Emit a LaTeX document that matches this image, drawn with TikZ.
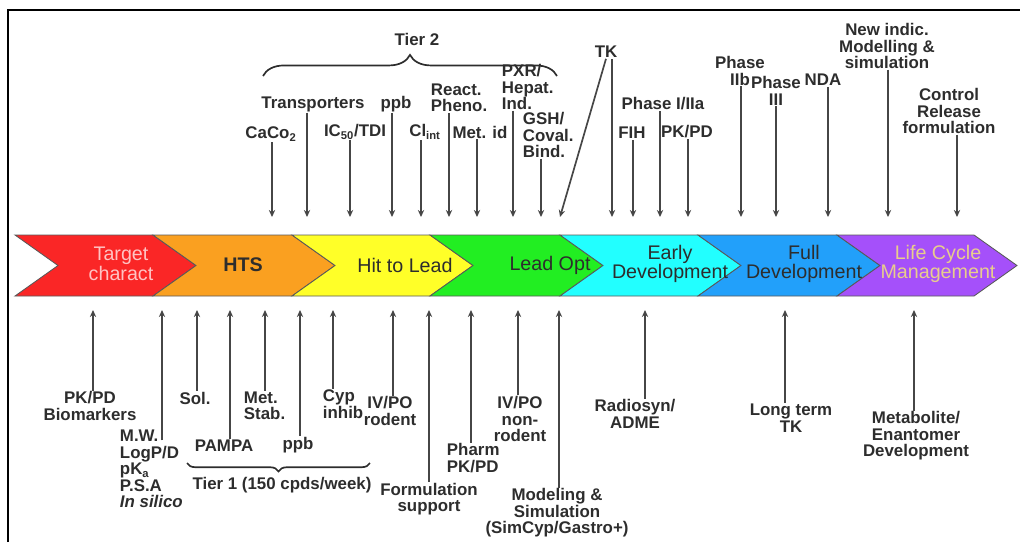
\documentclass[tikz,border=0pt]{standalone}
\usepackage{fontspec}
\newfontfamily\arialfont{Liberation Sans}
\usetikzlibrary{arrows.meta,decorations.pathreplacing}

\definecolor{cRed}{RGB}{250,38,38}
\definecolor{cOrange}{RGB}{250,160,32}
\definecolor{cYellow}{RGB}{255,255,40}
\definecolor{cGreen}{RGB}{34,238,34}
\definecolor{cCyan}{RGB}{34,255,255}
\definecolor{cBlue}{RGB}{34,160,250}
\definecolor{cPurple}{RGB}{165,80,250}
\definecolor{txtgray}{RGB}{45,45,45}
\definecolor{arrgray}{RGB}{70,70,70}
\definecolor{pinktxt}{RGB}{255,195,195}
\definecolor{tantxt}{RGB}{232,205,140}

\newcommand\lblfont{\arialfont\bfseries\fontsize{12}{11.7}\selectfont}
\newcommand\stagefont{\arialfont\fontsize{14}{13}\selectfont}

\tikzset{
    lbl/.style={font=\lblfont, text=txtgray, inner sep=0.5pt, align=center},
    lbll/.style={lbl, align=left, anchor=west},
    stage/.style={font=\stagefont, text=txtgray, inner sep=0pt, align=center},
    arr/.style={draw=arrgray, line width=1.2pt, -{Stealth[length=5pt,width=4.5pt]}},
    brc/.style={draw=txtgray, line width=1.2pt, decorate},
}

\begin{document}
\begin{tikzpicture}[x=0.025cm, y=-0.025cm]
    \useasboundingbox (0,0) rectangle (1020,542);
    % frame
    \draw[line width=1.5pt] (8,542) -- (8,10) -- (1020,10);

    % stages
    \foreach \l/\r/\c in {15/153/cRed, 153/292/cOrange, 292/430/cYellow,
        430/560/cGreen, 560/698/cCyan, 698/837/cBlue, 837/974/cPurple}
        \filldraw[draw=gray!70!black, line width=0.6pt, fill=\c]
            (\l,235) -- (\r,235) -- ++(43,30.5) -- (\r,296) -- (\l,296) -- ++(43,-30.5) -- cycle;

    \node[stage, text=pinktxt] (tgt) at (121,264) {Target\\charact};
    \node[stage, font=\stagefont\bfseries] (hts) at (243,265) {HTS};
    \node[stage] (h2l) at (405,265) {Hit to Lead};
    \node[stage] (lopt) at (550,265) {Lead Opt};
    \node[stage] (early) at (670,264) {Early\\Development};
    \node[stage] (full) at (804,264) {Full\\Development};
    \node[stage, text=tantxt] (life) at (938,264) {Life Cycle\\Management};

    % upper labels
    \node[lbl] (tier2) at (417,39) {Tier 2};
    \coordinate (t2a) at (263,76);
    \coordinate (t2b) at (557,76);
    \draw[brc, decoration={brace, amplitude=15pt}] (t2a) -- (t2b);

    \node[lbl] (caco) at (271,134) {CaCo\textsubscript{2}};
    \node[lbl] (transp) at (313,104) {Transporters};
    \node[lbl] (ic50) at (355,132) {IC\textsubscript{50}/TDI};
    \node[lbl] (ppbt) at (396,104) {ppb};
    \node[lbl] (clint) at (425,132) {Cl\textsubscript{int}};
    \node[lbll] (react) at (430,98) {React.\\Pheno.};
    \node[lbl] (metid) at (480,132) {Met. id};
    \node[lbll] (pxr) at (501,87) {PXR/\\Hepat.\\Ind.};
    \node[lbll] (gsh) at (522,135) {GSH/\\Coval.\\Bind.};
    \node[lbl] (tk) at (606,52) {TK};
    \node[lbl] (phase1) at (663,104) {Phase I/IIa};
    \node[lbl] (fih) at (632,133) {FIH};
    \node[lbl] (pkpdt) at (687,132) {PK/PD};
    \node[lbl] (phase2b) at (740,71) {Phase\\IIb};
    \node[lbl] (phase3) at (776,91) {Phase\\III};
    \node[lbl] (nda) at (823,80) {NDA};
    \node[lbl] (newind) at (887,46) {New indic.\\Modelling \&\\simulation};
    \node[lbl] (control) at (949,111) {Control\\Release\\formulation};

    \coordinate (e-caco) at (272,217);
    \coordinate (e-transp) at (307,217);
    \coordinate (e-ic50) at (350,217);
    \coordinate (e-ppbt) at (392,217);
    \coordinate (e-clint) at (421,217);
    \coordinate (e-react) at (449,217);
    \coordinate (e-metid) at (477,217);
    \coordinate (e-pxr) at (513,217);
    \coordinate (e-gsh) at (541,217);
    \coordinate (e-tkd) at (560,217);
    \coordinate (e-tk) at (612,217);
    \coordinate (e-fih) at (633,217);
    \coordinate (e-phase1) at (660,217);
    \coordinate (e-pkpdt) at (688,217);
    \coordinate (e-phase2b) at (741,217);
    \coordinate (e-phase3) at (776,217);
    \coordinate (e-nda) at (828,217);
    \coordinate (e-newind) at (888,217);
    \coordinate (e-control) at (957,217);

    \foreach \n in {caco, transp, ic50, ppbt, clint, react, metid, pxr, gsh,
        tk, fih, phase1, pkpdt, phase2b, phase3, nda, newind, control}
        \draw[arr] (\n.south -| e-\n) -- (e-\n);
    \draw[arr] (tk.south) -- (e-tkd);

    % lower labels
    \node[lbl] (biom) at (90,406) {PK/PD\\Biomarkers};
    \node[lbll] (mw) at (119,469) {M.W.\\LogP/D\\pK\textsubscript{a}\\P.S.A\\\textit{In silico}};
    \node[lbl] (sol) at (195,398) {Sol.};
    \node[lbl] (pampa) at (224,446) {PAMPA};
    \node[lbll] (metstab) at (243,406) {Met.\\Stab.};
    \node[lbl] (ppbb) at (298,445) {ppb};
    \node[lbll] (cyp) at (322,404) {Cyp\\inhib};
    \node[lbl] (tier1) at (282,485) {Tier 1 (150 cpds/week)};
    \coordinate (t1a) at (187,463);
    \coordinate (t1b) at (370,463);
    \draw[brc, decoration={brace, mirror, amplitude=6pt}] (t1a) -- (t1b);
    \node[lbl] (ivpo) at (390,411) {IV/PO\\rodent};
    \node[lbl] (form) at (429,499) {Formulation\\support};
    \node[lbll] (pharm) at (446,458) {Pharm\\PK/PD};
    \node[lbl] (ivpo2) at (520,419) {IV/PO\\non-\\rodent};
    \node[lbl] (model) at (557,513) {Modeling \&\\Simulation\\(SimCyp/Gastro+)};
    \node[lbl] (radio) at (635,414) {Radiosyn/\\ADME};
    \node[lbl] (longt) at (791,418) {Long term\\TK};
    \node[lbl] (metab) at (916,436) {Metabolite/\\Enantomer\\Development};

    \coordinate (e-biom) at (93,310);
    \coordinate (e-mw) at (162,310);
    \coordinate (e-sol) at (197,310);
    \coordinate (e-pampa) at (230,310);
    \coordinate (e-metstab) at (265,310);
    \coordinate (e-ppbb) at (300,310);
    \coordinate (e-cyp) at (333,310);
    \coordinate (e-ivpo) at (393,310);
    \coordinate (e-form) at (429,310);
    \coordinate (e-pharm) at (471,310);
    \coordinate (e-ivpo2) at (518,310);
    \coordinate (e-model) at (559,310);
    \coordinate (e-radio) at (645,310);
    \coordinate (e-longt) at (785,310);
    \coordinate (e-metab) at (914,310);

    \foreach \n in {biom, sol, pampa, metstab, ppbb, cyp, ivpo, form, pharm,
        ivpo2, model, radio, longt, metab}
        \draw[arr] (\n.north -| e-\n) -- (e-\n);
    \draw[arr] ([yshift=-8pt]mw.north -| e-mw) -- (e-mw);
\end{tikzpicture}
\end{document}
